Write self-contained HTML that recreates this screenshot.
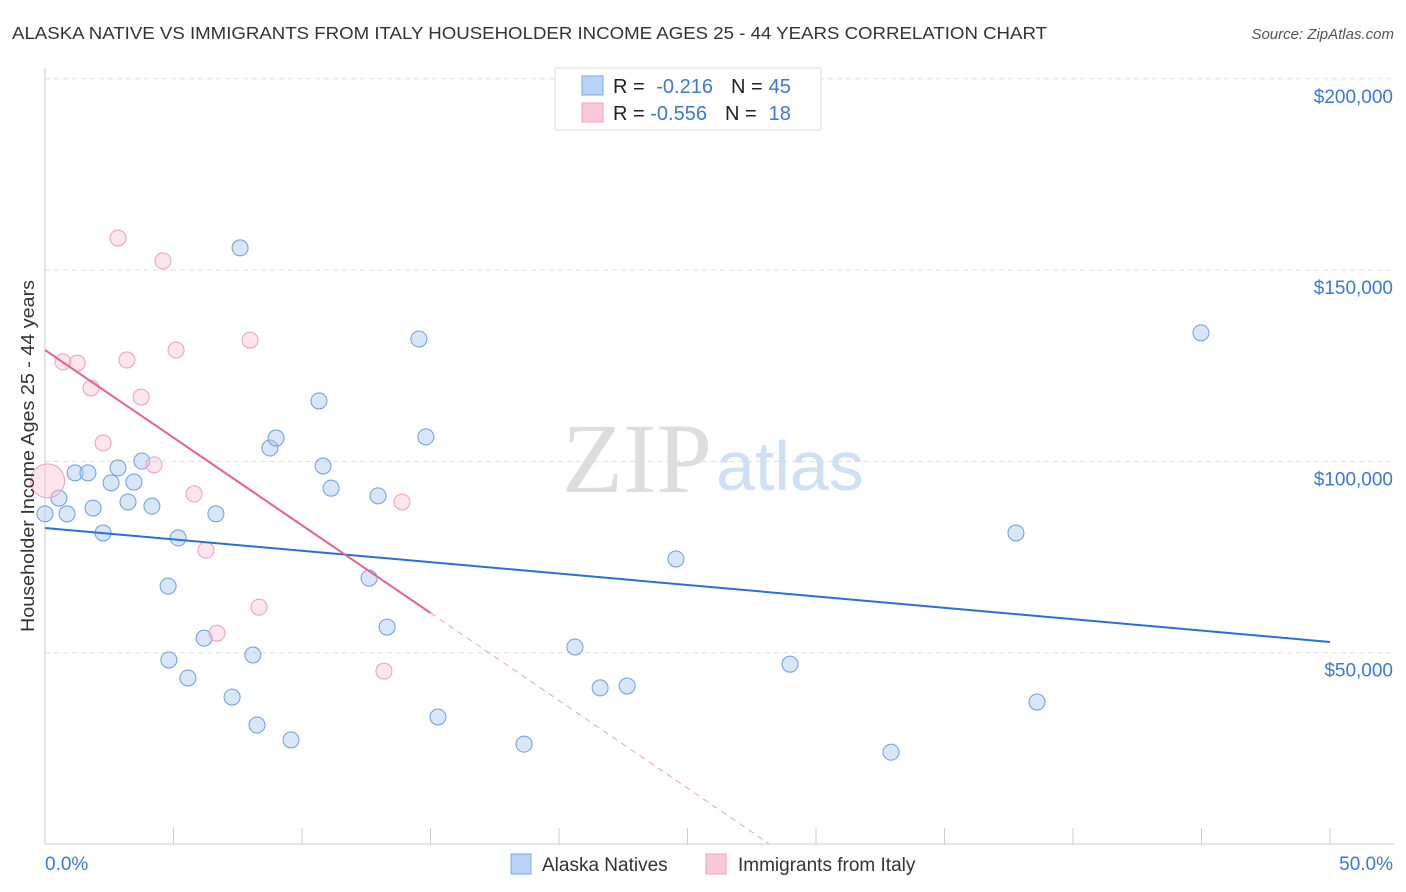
<!DOCTYPE html>
<html><head><meta charset="utf-8"><style>
body{margin:0;background:#fff;font-family:"Liberation Sans",sans-serif;}
svg{display:block}
</style></head><body>
<svg id="chart" width="1406" height="892">
<text x="12" y="39" font-size="17.5" fill="#333" textLength="1035" lengthAdjust="spacingAndGlyphs">ALASKA NATIVE VS IMMIGRANTS FROM ITALY HOUSEHOLDER INCOME AGES 25 - 44 YEARS CORRELATION CHART</text>
<text x="1394" y="39" font-size="15" fill="#555" font-style="italic" text-anchor="end">Source: ZipAtlas.com</text>
<text x="712" y="492" font-size="100" fill="#ddd" text-anchor="end" font-family="Liberation Serif,serif">ZIP</text>
<text x="716" y="490" font-size="70" fill="#cfe0f5">atlas</text>
<g id="grid"></g><g id="axes"></g><g id="pts"></g><g id="trend"></g>
<g>
<rect x="555" y="68" width="266" height="62" fill="#fff" stroke="#ddd"/>
<rect x="582" y="76" width="21" height="19" fill="#b8d3f5" stroke="#7aa8e8"/>
<rect x="582" y="103" width="21" height="19" fill="#fbc9d7" stroke="#f0a0b8"/>
<text x="613" y="93" font-size="20" fill="#222">R = <tspan fill="#3b78d8" dx="6">-0.216</tspan><tspan dx="18" fill="#222">N =</tspan><tspan dx="6" fill="#3b78d8">45</tspan></text>
<text x="613" y="120" font-size="20" fill="#222">R = <tspan fill="#3b78d8">-0.556</tspan><tspan dx="18" fill="#222">N =</tspan><tspan dx="12" fill="#3b78d8">18</tspan></text>
</g>
<text transform="translate(34,456) rotate(-90)" font-size="18" fill="#333" text-anchor="middle" textLength="352" lengthAdjust="spacingAndGlyphs">Householder Income Ages 25 - 44 years</text>
<g>
<rect x="511" y="854" width="20" height="20" fill="#b8d3f5" stroke="#7aa8e8"/>
<text x="542" y="871" font-size="19" fill="#333">Alaska Natives</text>
<rect x="706" y="854" width="20" height="20" fill="#fbc9d7" stroke="#f0a0b8"/>
<text x="738" y="871" font-size="19" fill="#333">Immigrants from Italy</text>
</g>
</svg>
<script>
const blueX=[0,0.54,0.86,1.17,1.67,1.87,2.26,2.57,2.84,3.23,3.46,3.77,4.16,4.79,4.82,5.18,5.56,6.19,6.65,7.28,7.59,8.09,8.25,8.75,8.99,9.57,10.66,10.82,11.13,12.61,12.96,13.31,14.55,14.82,15.29,18.64,20.62,21.6,22.65,24.55,28.99,32.92,37.78,38.6,44.98];
const blueY=[86300,90400,86300,97000,97000,87800,81300,94400,98300,89400,94600,100100,88300,67400,48100,80000,43400,53800,86300,38400,155800,49400,31100,103500,106100,27200,115800,98800,93000,69500,91000,56700,132000,106400,33200,26100,51500,40800,41300,74500,47000,24000,81300,37100,133600];
const pinkX=[0.1,0.7,1.25,1.79,2.26,2.84,3.19,3.74,4.24,4.59,5.1,5.8,6.26,6.69,7.98,8.33,13.19,13.89];
const pinkY=[94900,126000,125700,119200,104800,158400,126500,116800,99100,152400,129100,91500,76800,55100,131700,61900,45200,89400];
const pinkR=[17,8,8,8,8,8,8,8,8,8,8,8,8,8,8,8,8,8];
const yTicks=[50000,100000,150000,200000];
const xTickLabels=["0.0%","50.0%"];
const blueTrend=[82600,52800];
const pinkTrend=[129100,-4580];
const NS="http://www.w3.org/2000/svg";
const sx=v=>45+v*25.7, sy=v=>844-v/261.37;
function mk(tag,at,parent){const e=document.createElementNS(NS,tag);for(const k in at)e.setAttribute(k,at[k]);document.getElementById(parent).appendChild(e);return e;}
yTicks.forEach(t=>{
 const l=mk('line',{x1:45,x2:1394,y1:sy(t),y2:sy(t),stroke:'#ddd','stroke-dasharray':'5,4'},'grid');
 
 
 const tx=mk('text',{x:1393,y:sy(t)+24,'font-size':19,fill:'#3b78d8','text-anchor':'end'},'grid');
 tx.textContent='$'+t.toLocaleString('en-US');
 
 
});
mk('line',{x1:45,x2:1394,y1:844,y2:844,stroke:'#ccc'},'axes');
mk('line',{x1:45,x2:45,y1:68,y2:844,stroke:'#ccc'},'axes');
for(let i=0;i<=10;i++){const x=sx(i*5);const t=mk('line',{x1:x,x2:x,y1:828,y2:844,stroke:'#ccc'},'axes');
 
 }
[[0,'start',45],[1,'end',1393]].forEach(([i,a,x])=>{const t=mk('text',{x:x,y:870,'font-size':19,fill:'#3b78d8','text-anchor':a},'axes');t.textContent=xTickLabels[i];
 
 });
blueX.forEach((x,i)=>{const c=mk('circle',{cx:sx(x),cy:sy(blueY[i]),r:8,fill:'rgba(170,200,240,0.45)',stroke:'#6a9ee0','stroke-width':1},'pts');
 
 });
pinkX.forEach((x,i)=>{const c=mk('circle',{cx:sx(x),cy:sy(pinkY[i]),r:pinkR[i],fill:'rgba(248,190,208,0.4)',stroke:'#eaa0b8','stroke-width':1},'pts');
 
 });
const bt=mk('line',{x1:sx(0),y1:sy(blueTrend[0]),x2:sx(50),y2:sy(blueTrend[1]),stroke:'#2a6fd6','stroke-width':2},'trend');


const pe=15, pz=-pinkTrend[0]/pinkTrend[1];
const pt=mk('line',{x1:sx(0),y1:sy(pinkTrend[0]),x2:sx(pe),y2:sy(pinkTrend[0]+pinkTrend[1]*pe),stroke:'#e8608c','stroke-width':2},'trend');


const pd=mk('line',{x1:sx(pe),y1:sy(pinkTrend[0]+pinkTrend[1]*pe),x2:sx(pz),y2:sy(0),stroke:'#f0a0b8','stroke-width':1,'stroke-dasharray':'6,5'},'trend');


</script>
</body></html>
